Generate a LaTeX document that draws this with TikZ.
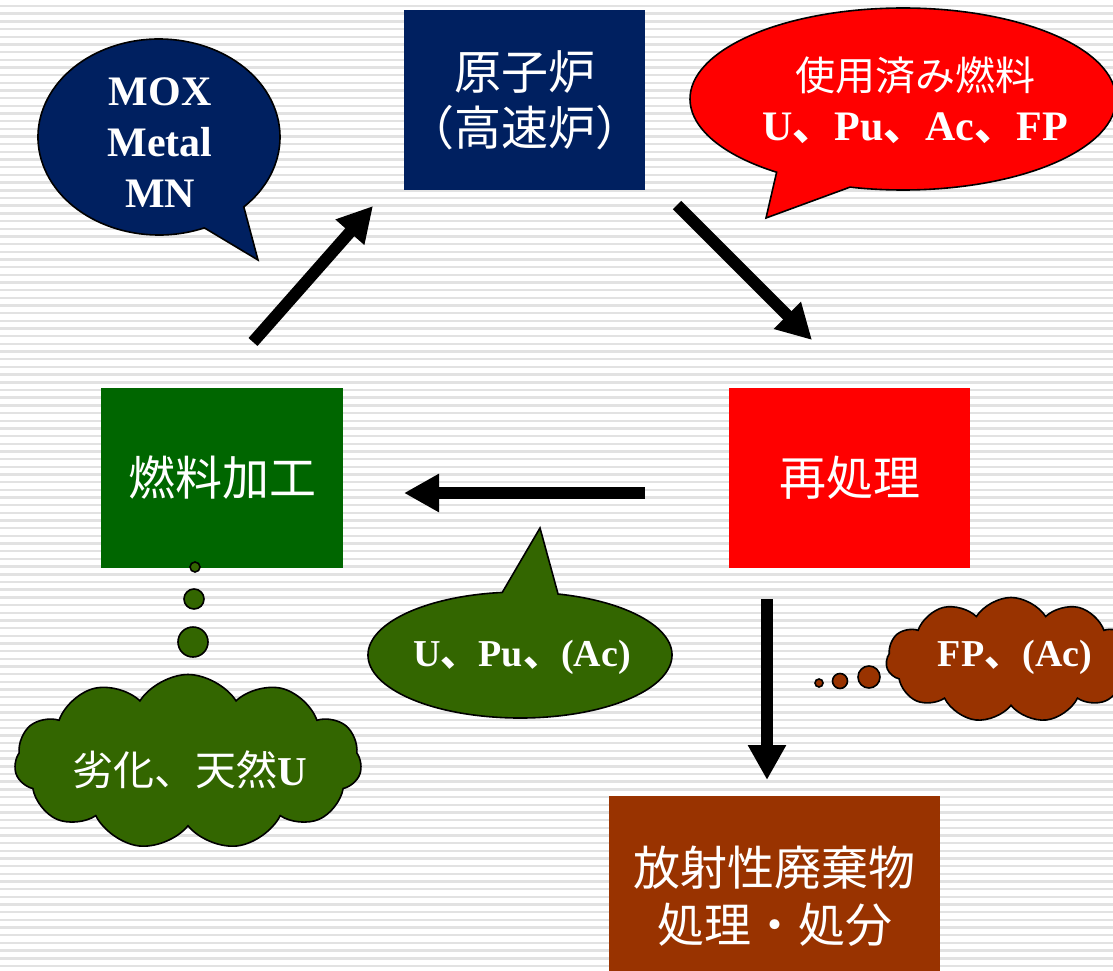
\documentclass[tikz,border=0pt]{standalone}
\usepackage{fontspec}
\setmainfont{Liberation Serif}
\newfontfamily\cjk{Noto Sans CJK JP}
\usetikzlibrary{arrows.meta,shapes.symbols}
\definecolor{navy}{RGB}{0,32,96}
\definecolor{boxgreen}{RGB}{0,102,0}
\definecolor{calloutgreen}{RGB}{51,102,0}
\definecolor{rustbrown}{RGB}{153,51,0}
\definecolor{stripe}{RGB}{226,226,226}
\tikzset{
  stagebox/.style={rectangle, inner sep=0pt, text=white, align=center,
    font=\cjk\fontsize{47}{56}\selectfont},
  bigarrow/.style={line width=12pt, -{Triangle[length=35pt,width=36pt]}},
  calloutshape/.style={draw=black, line width=1.6pt},
  bubble/.style={circle, draw=black, line width=1.6pt, inner sep=0pt},
  puff/.style={cloud, cloud puffs=11, cloud puff arc=115, draw=black, line width=1.6pt, inner sep=0pt},
  label/.style={text=white, align=center, inner sep=0pt}
}
\begin{document}
\begin{tikzpicture}[x=1pt,y=-1pt]
\clip (0,0) rectangle (1113,971);
\fill[white] (0,0) rectangle (1113,971);
\foreach \i in {0,...,126} \fill[stripe] (0,{6+7.68*\i-1.2}) rectangle (1113,{6+7.68*\i+1.2});

% stage boxes
\node[stagebox, fill=navy, minimum width=241pt, minimum height=180pt] (reactor) at (524.5,100) {原子炉\\（高速炉）};
\node[stagebox, fill=boxgreen, minimum width=242pt, minimum height=180pt] (fab) at (222,478) {燃料加工};
\node[stagebox, fill=red, minimum width=241pt, minimum height=180pt] (repro) at (849.5,478) {再処理};
\node[stagebox, fill=rustbrown, minimum width=331pt, minimum height=200pt, font=\cjk\fontsize{47}{57}\selectfont] (waste) at (774.5,896) {放射性廃棄物\\処理・処分};

% navy callout
\draw[calloutshape, fill=navy] ([shift={(159,137)}]68:121 and 98) arc[start angle=68, end angle=405.5, x radius=121, y radius=98] -- (258,260) -- cycle;
\node[label, font=\bfseries\fontsize{42}{51}\selectfont] (fuels) at (160,143) {MOX\\Metal\\MN};

% red callout
\draw[calloutshape, fill=red] ([shift={(903,99)}]126.4:213 and 91) arc[start angle=126.4, end angle=464.4, x radius=213, y radius=91] -- (766,218) -- cycle;
\node[label, font=\cjk\fontsize{40}{50}\selectfont] (spent) at (915,75) {使用済み燃料};
\node[label, font=\bfseries\fontsize{42}{50}\selectfont] (spentlist) at (915,128) {U{\cjk 、}Pu{\cjk 、}Ac{\cjk 、}FP};

% green callout
\draw[calloutshape, fill=calloutgreen] ([shift={(520,655)}]-75.5:152 and 63) arc[start angle=-75.5, end angle=263.3, x radius=152, y radius=63] -- (540,528) -- cycle;
\node[label, font=\bfseries\fontsize{38}{46}\selectfont] (recycled) at (522,657) {U{\cjk 、}Pu{\cjk 、}(Ac)};

% thought bubbles: depleted / natural U
\node[bubble, fill=calloutgreen, minimum size=10pt] (g1) at (195,567) {};
\node[bubble, fill=calloutgreen, minimum size=20pt] (g2) at (194,599) {};
\node[bubble, fill=calloutgreen, minimum size=30pt] (g3) at (193,642) {};
\node[puff, fill=calloutgreen, aspect=2, minimum width=347pt, minimum height=175pt] (ucloud) at (188,762) {};
\node[label, font=\cjk\fontsize{41}{50}\selectfont] (utext) at (190,770) {劣化、天然{\rmfamily\bfseries U}};

% thought bubbles: FP
\node[bubble, fill=rustbrown, minimum size=8pt] (b1) at (819,683) {};
\node[bubble, fill=rustbrown, minimum size=15pt] (b2) at (840,681) {};
\node[bubble, fill=rustbrown, minimum size=22pt] (b3) at (869,677) {};
\node[puff, fill=rustbrown, aspect=2, minimum width=250pt, minimum height=125pt] (fpcloud) at (1011,660) {};
\node[label, font=\bfseries\fontsize{38}{46}\selectfont] (fptext) at (1015,657) {FP{\cjk 、}(Ac)};

% arrows
\coordinate (a1s) at (253,342); \coordinate (a1e) at (373,206);
\coordinate (a2s) at (677,205); \coordinate (a2e) at (812,340);
\coordinate (a3s) at (645,493); \coordinate (a3e) at (404,493);
\coordinate (a4s) at (767,599); \coordinate (a4e) at (767,780);
\draw[bigarrow] (a1s) -- (a1e);
\draw[bigarrow] (a2s) -- (a2e);
\draw[bigarrow] (a3s) -- (a3e);
\draw[bigarrow] (a4s) -- (a4e);
\end{tikzpicture}
\end{document}
